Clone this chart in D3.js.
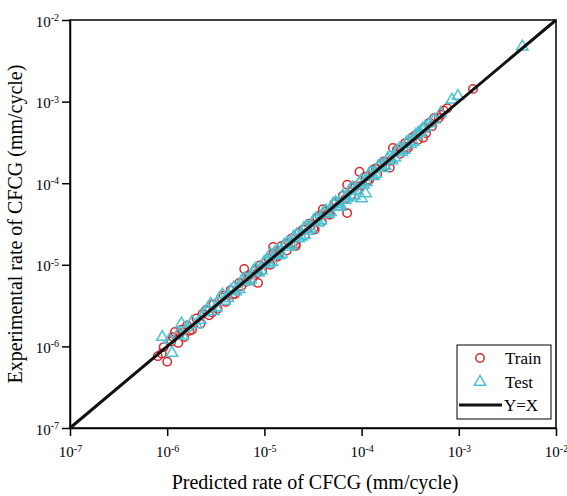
<!DOCTYPE html>
<html>
<head>
<meta charset="utf-8">
<script src="https://cdn.jsdelivr.net/npm/d3@7"></script>
<style>
  body { margin: 0; background: #fff; }
  text { font-family: "Liberation Serif", "Times New Roman", serif; }
</style>
</head>
<body>
<svg id="chart" width="567" height="496"></svg>
<script>
// data (predicted, experimental) in mm/cycle
var trainPred = [8.0e-7, 8.8e-7, 1.0e-6, 1.1e-6, 1.2e-6, 1.3e-6, 1.4e-6, 1.5e-6, 1.6e-6, 1.8e-6,
  2.0e-6, 2.2e-6, 2.5e-6, 2.7e-6, 3.0e-6, 3.3e-6, 3.6e-6, 4.0e-6, 4.5e-6, 5.0e-6,
  5.5e-6, 6.2e-6, 8.6e-6, 6.5e-6, 7.0e-6, 7.5e-6, 8.0e-6, 9.0e-6, 9.5e-6,
  1.05e-5, 1.15e-5, 1.25e-5, 1.23e-5, 1.4e-5, 1.5e-5, 1.7e-5, 1.9e-5, 2.1e-5, 2.1e-5, 2.3e-5,
  2.6e-5, 2.9e-5, 3.2e-5, 3.5e-5, 3.9e-5, 4.3e-5, 4.7e-5,
  5.2e-5, 5.8e-5, 6.4e-5, 7.1e-5, 7.1e-5, 7.8e-5, 8.5e-5, 9.5e-5, 1.0e-4, 1.1e-4, 1.2e-4,
  1.3e-4, 1.45e-4, 1.6e-4, 1.75e-4, 1.95e-4, 2.1e-4, 2.3e-4, 2.5e-4, 2.8e-4, 3.0e-4,
  3.4e-4, 3.8e-4, 4.3e-4, 4.6e-4, 5.0e-4, 5.6e-4, 6.2e-4, 7.0e-4, 7.6e-4, 1.4e-3,
  9.2e-7, 1.15e-6, 1.35e-6, 1.7e-6, 2.3e-6, 2.9e-6, 3.8e-6, 4.7e-6, 5.8e-6, 6.8e-6,
  8.4e-6, 1.1e-5, 1.35e-5, 1.65e-5, 2.0e-5, 2.5e-5, 3.0e-5, 3.7e-5, 4.5e-5, 5.5e-5,
  6.8e-5, 8.0e-5, 9.0e-5, 1.15e-4, 1.4e-4, 1.7e-4, 2.0e-4, 2.4e-4, 2.9e-4, 3.6e-4,
  4.4e-4, 5.3e-4, 6.6e-4, 4.0e-5, 3.3e-5];
var trainExp = [7.6e-7, 8.2e-7, 6.5e-7, 1.15e-6, 1.5e-6, 1.1e-6, 1.6e-6, 1.3e-6, 1.8e-6, 1.6e-6,
  2.2e-6, 1.9e-6, 2.8e-6, 2.4e-6, 3.3e-6, 2.9e-6, 4.0e-6, 3.5e-6, 4.9e-6, 4.4e-6,
  6.0e-6, 8.9e-6, 6.0e-6, 6.2e-6, 7.5e-6, 6.8e-6, 8.4e-6, 9.8e-6, 8.6e-6,
  1.1e-5, 1.0e-5, 1.4e-5, 1.65e-5, 1.3e-5, 1.7e-5, 1.5e-5, 2.1e-5, 1.8e-5, 1.7e-5, 2.5e-5,
  2.3e-5, 3.2e-5, 2.8e-5, 3.8e-5, 3.4e-5, 4.5e-5, 4.1e-5,
  5.6e-5, 5.2e-5, 7.0e-5, 9.6e-5, 4.3e-5, 7.2e-5, 9.2e-5, 1.38e-4, 9.3e-5, 1.2e-4, 1.1e-4,
  1.45e-4, 1.3e-4, 1.75e-4, 1.6e-4, 1.55e-4, 2.7e-4, 2.55e-4, 2.3e-4, 3.1e-4, 2.7e-4,
  3.7e-4, 3.4e-4, 3.6e-4, 4.1e-4, 5.5e-4, 6.3e-4, 6.3e-4, 7.8e-4, 8.3e-4, 1.43e-3,
  9.8e-7, 1.3e-6, 1.45e-6, 1.55e-6, 2.5e-6, 2.6e-6, 4.2e-6, 4.3e-6, 5.5e-6, 7.3e-6,
  7.9e-6, 1.2e-5, 1.25e-5, 1.8e-5, 1.9e-5, 2.7e-5, 3.0e-5, 4.0e-5, 4.3e-5, 5.9e-5,
  6.4e-5, 8.7e-5, 8.3e-5, 1.05e-4, 1.52e-4, 1.85e-4, 1.9e-4, 2.6e-4, 2.8e-4, 3.9e-4,
  4.8e-4, 5.0e-4, 6.9e-4, 4.8e-5, 2.7e-5];

var testPred = [8.9e-7, 1.12e-6, 1.3e-6, 1.6e-6, 2.0e-6, 2.4e-6, 2.8e-6, 3.2e-6, 3.7e-6, 4.2e-6,
  4.8e-6, 5.5e-6, 6.3e-6, 7.2e-6, 8.2e-6, 9.3e-6, 1.05e-5, 1.2e-5, 1.35e-5, 1.5e-5,
  1.7e-5, 1.9e-5, 2.15e-5, 2.4e-5, 2.7e-5, 3.0e-5, 3.4e-5, 3.8e-5, 4.3e-5, 4.8e-5,
  5.4e-5, 6.0e-5, 6.8e-5, 7.5e-5, 8.4e-5, 9.4e-5, 1.0e-4, 1.05e-4, 1.1e-4, 1.18e-4,
  1.32e-4, 1.48e-4, 1.65e-4, 1.85e-4, 2.05e-4, 2.3e-4, 2.6e-4, 2.9e-4, 3.2e-4, 3.6e-4,
  4.0e-4, 4.5e-4, 8.5e-4, 9.8e-4, 4.5e-3,
  1.05e-6, 1.45e-6, 1.8e-6, 2.2e-6, 2.6e-6, 3.0e-6, 3.45e-6, 3.9e-6, 4.5e-6, 5.1e-6,
  5.9e-6, 6.7e-6, 7.7e-6, 8.7e-6, 9.9e-6, 1.12e-5, 1.27e-5, 1.42e-5, 1.6e-5, 1.8e-5,
  2.0e-5, 2.25e-5, 2.55e-5, 2.85e-5, 3.2e-5, 3.6e-5, 4.05e-5, 4.55e-5, 5.1e-5, 5.7e-5,
  6.4e-5, 7.1e-5, 8.0e-5, 8.9e-5, 9.9e-5, 1.12e-4, 1.25e-4, 1.4e-4, 1.56e-4, 1.75e-4,
  1.95e-4, 2.2e-4, 2.45e-4, 2.75e-4, 3.05e-4, 3.4e-4, 3.8e-4, 4.25e-4, 5.0e-4, 5.6e-4,
  6.5e-4, 1.15e-5, 2.6e-5, 6.0e-5, 7.9e-5, 1.4e-6];
var testExp = [1.3e-6, 8.3e-7, 1.4e-6, 1.7e-6, 1.85e-6, 2.6e-6, 3.3e-6, 3.0e-6, 4.3e-6, 3.9e-6,
  5.2e-6, 5.0e-6, 6.8e-6, 6.6e-6, 9.0e-6, 8.5e-6, 1.15e-5, 1.08e-5, 1.5e-5, 1.35e-5,
  1.85e-5, 1.75e-5, 2.35e-5, 2.2e-5, 2.95e-5, 2.75e-5, 3.7e-5, 3.5e-5, 4.6e-5, 4.4e-5,
  5.8e-5, 5.5e-5, 6.2e-5, 8.1e-5, 7.0e-5, 1.0e-4, 6.5e-5, 9.6e-5, 7.5e-5, 1.27e-4,
  1.22e-4, 1.6e-4, 1.52e-4, 2.0e-4, 1.9e-4, 2.5e-4, 2.4e-4, 3.15e-4, 3.0e-4, 3.9e-4,
  4.2e-4, 4.9e-4, 1.05e-3, 1.17e-3, 4.7e-3,
  1.2e-6, 1.35e-6, 2.0e-6, 2.1e-6, 2.9e-6, 2.7e-6, 3.9e-6, 3.6e-6, 4.8e-6, 4.7e-6,
  6.5e-6, 6.2e-6, 8.4e-6, 8.0e-6, 1.07e-5, 1.03e-5, 1.4e-5, 1.3e-5, 1.75e-5, 1.65e-5,
  2.2e-5, 2.1e-5, 2.8e-5, 2.6e-5, 3.5e-5, 3.3e-5, 4.4e-5, 4.2e-5, 5.6e-5, 5.2e-5,
  7.0e-5, 6.6e-5, 8.8e-5, 8.2e-5, 1.08e-4, 1.03e-4, 1.37e-4, 1.3e-4, 1.7e-4, 1.62e-4,
  2.12e-4, 2.05e-4, 2.65e-4, 2.55e-4, 3.3e-4, 3.2e-4, 4.1e-4, 4.6e-4, 5.4e-4, 6.0e-4,
  7.2e-4, 1.35e-5, 2.3e-5, 5.1e-5, 6.8e-5, 1.9e-6];

var tickExps = [-7, -6, -5, -4, -3, -2];
var legendLabels = ["Train", "Test", "Y=X"];
var trainColor = "#d8262e";
var testColor = "#4bc3d2";

var svg = d3.select("#chart");
var plotL = 70, plotR = 556, plotT = 20, plotB = 428;

var x = d3.scaleLog().domain([1e-7, 1e-2]).range([plotL, plotR]);
var y = d3.scaleLog().domain([1e-7, 1e-2]).range([plotB, plotT]);
var tickVals = tickExps.map(function(e) { return Math.pow(10, e); });

function supLabel(sel) {
	sel.selectAll(".tick text").each(function(d) {
		var t = d3.select(this);
		var e = Math.round(Math.log10(d));
		t.text(null);
		t.append("tspan").text("10");
		t.append("tspan").attr("dy", "-0.55em").attr("font-size", "10px").text(e);
	});
}

// frame
svg.append("rect")
	.attr("x", plotL).attr("y", plotT)
	.attr("width", plotR - plotL).attr("height", plotB - plotT)
	.attr("fill", "none").attr("stroke", "#000").attr("stroke-width", 1.5);

var xAxis = svg.append("g")
	.attr("transform", "translate(0," + plotB + ")")
	.call(d3.axisBottom(x).tickValues(tickVals).tickSize(8).tickSizeOuter(0).tickFormat(""));
xAxis.select(".domain").attr("stroke-width", 1.5);
xAxis.selectAll(".tick line").attr("stroke-width", 1.5);
xAxis.selectAll(".tick text").attr("font-size", "15px").attr("fill", "#000").attr("dy", "1.2em");
supLabel(xAxis);

var yAxis = svg.append("g")
	.attr("transform", "translate(" + plotL + ",0)")
	.call(d3.axisLeft(y).tickValues(tickVals).tickSize(8).tickSizeOuter(0).tickFormat(""));
yAxis.select(".domain").attr("stroke-width", 1.5);
yAxis.selectAll(".tick line").attr("stroke-width", 1.5);
yAxis.selectAll(".tick text").attr("font-size", "15px").attr("fill", "#000").attr("x", -11).attr("dy", "0.4em");
supLabel(yAxis);

// points
var train = trainPred.map(function(p, i) { return [p, trainExp[i]]; });
var test = testPred.map(function(p, i) { return [p, testExp[i]]; });

svg.append("g").selectAll("circle")
	.data(train).enter().append("circle")
	.attr("cx", function(d) { return x(d[0]); })
	.attr("cy", function(d) { return y(d[1]); })
	.attr("r", 4.2)
	.attr("fill", "none").attr("stroke", trainColor).attr("stroke-width", 1.5);

var tri = d3.symbol().type(d3.symbolTriangle).size(55);
svg.append("g").selectAll("path")
	.data(test).enter().append("path")
	.attr("d", tri)
	.attr("transform", function(d) { return "translate(" + x(d[0]) + "," + y(d[1]) + ")"; })
	.attr("fill", "none").attr("stroke", testColor).attr("stroke-width", 1.5);

// Y = X line
svg.append("line")
	.attr("x1", x(1e-7)).attr("y1", y(1e-7))
	.attr("x2", x(1e-2)).attr("y2", y(1e-2))
	.attr("stroke", "#111").attr("stroke-width", 3);

// axis titles
svg.append("text")
	.attr("x", 315).attr("y", 489)
	.attr("text-anchor", "middle").attr("font-size", "20px")
	.text("Predicted rate of CFCG (mm/cycle)");
svg.append("text")
	.attr("transform", "translate(22," + (plotT + plotB) / 2 + ") rotate(-90)")
	.attr("text-anchor", "middle").attr("font-size", "20px")
	.text("Experimental rate of CFCG (mm/cycle)");

// legend
var lg = svg.append("g").attr("transform", "translate(457,345)");
lg.append("rect").attr("width", 94).attr("height", 74)
	.attr("fill", "#fff").attr("stroke", "#000").attr("stroke-width", 1);
lg.append("circle").attr("cx", 23).attr("cy", 13).attr("r", 4.2)
	.attr("fill", "none").attr("stroke", trainColor).attr("stroke-width", 1.5);
lg.append("path").attr("d", tri).attr("transform", "translate(23,37)")
	.attr("fill", "none").attr("stroke", testColor).attr("stroke-width", 1.5);
lg.append("line").attr("x1", 2).attr("x2", 45).attr("y1", 60).attr("y2", 60)
	.attr("stroke", "#111").attr("stroke-width", 3);
lg.selectAll("text.lab").data(legendLabels).enter().append("text")
	.attr("class", "lab")
	.attr("x", function(d, i) { return i == 2 ? 47 : 48; })
	.attr("y", function(d, i) { return 19 + i * 23.5; })
	.attr("font-size", "17px")
	.text(function(d) { return d; });
</script>
</body>
</html>
